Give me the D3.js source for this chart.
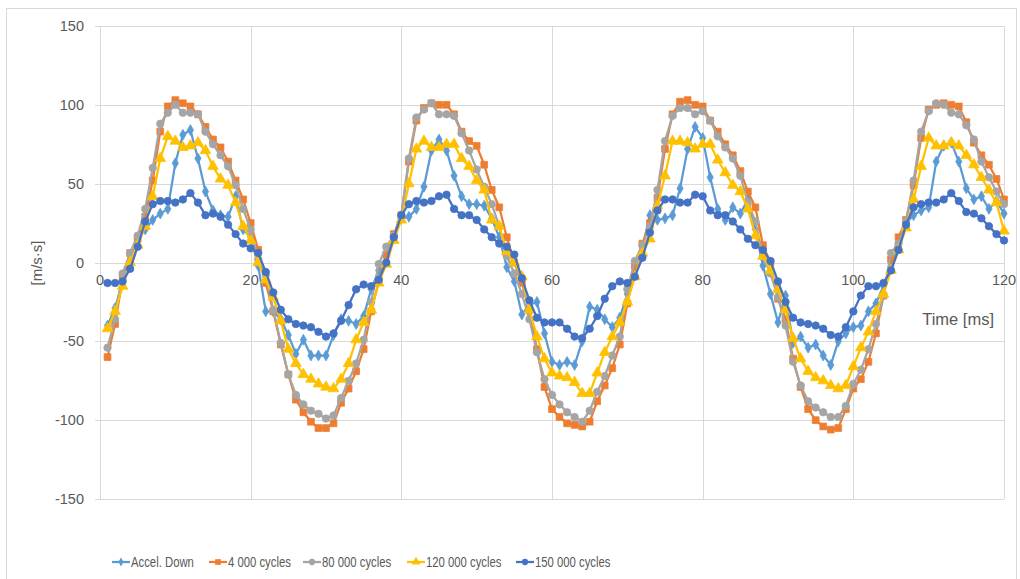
<!DOCTYPE html>
<html><head><meta charset="utf-8">
<script src="https://cdn.jsdelivr.net/npm/d3@7"></script>
<style>body{margin:0;background:#fff}svg{display:block}text{font-family:"Liberation Sans",Arial,sans-serif;fill:#595959}</style>
</head><body><svg id="c" width="1020" height="579"></svg>
<script>
const time = [1,2,3,4,5,6,7,8,9,10,11,12,13,14,15,16,17,18,19,20,21,22,23,24,25,26,27,28,29,30,31,32,33,34,35,36,37,38,39,40,41,42,43,44,45,46,47,48,49,50,51,52,53,54,55,56,57,58,59,60,61,62,63,64,65,66,67,68,69,70,71,72,73,74,75,76,77,78,79,80,81,82,83,84,85,86,87,88,89,90,91,92,93,94,95,96,97,98,99,100,101,102,103,104,105,106,107,108,109,110,111,112,113,114,115,116,117,118,119,120];
const accelDown = [-40,-29,-12,5,15,21,27,31,34,63,81,84,66,45,33,30,29,42,21,16,-2,-31,-31,-36,-46,-58,-49,-59,-59,-59,-46,-36,-37,-39,-34,-17,-5,0,17,28,29,34,48,71,78,71,55,42,37,37,36,28,16,-3,-12,-33,-27,-25,-45,-63,-65,-63,-65,-50,-28,-30,-36,-41,-35,-20,-3,10,30,27,28,30,47,72,86,79,54,34,27,35,31,40,21,-2,-20,-38,-21,-51,-47,-54,-52,-59,-65,-50,-45,-41,-40,-31,-26,-15,-2,10,25,30,33,35,64,74,76,64,47,40,42,34,39,31];
const cycles4000 = [-60,-39,-10,6,15,29,52,83,99,103,101,99,94,86,78,73,64,52,40,25,8,-13,-31,-52,-71,-87,-95,-101,-105,-105,-102,-89,-80,-69,-55,-31,-12,5,18,30,64,90,98,101,100,100,94,83,77,74,62,46,35,16,0,-13,-30,-55,-79,-93,-98,-102,-103,-104,-101,-88,-78,-67,-52,-26,-2,12,25,41,72,94,102,103,100,99,90,83,75,68,58,45,35,11,0,-23,-36,-61,-79,-93,-100,-104,-106,-105,-93,-80,-74,-63,-45,-21,2,16,27,49,79,97,100,101,100,99,89,76,68,62,53,40];
const cycles80000 = [-54,-36,-7,6,17,34,60,88,95,100,95,95,94,83,75,68,61,49,34,21,2,-8,-30,-51,-71,-84,-90,-94,-96,-99,-97,-86,-75,-64,-49,-25,-1,10,17,30,66,92,97,101,94,94,93,82,71,59,48,37,23,4,-7,-20,-36,-57,-74,-84,-90,-95,-98,-101,-94,-82,-72,-59,-47,-17,1,11,23,46,77,93,98,98,94,96,90,80,73,66,55,38,26,4,-7,-22,-40,-63,-78,-88,-92,-95,-98,-98,-91,-77,-68,-55,-39,-21,6,12,26,52,83,96,101,100,95,94,87,78,64,54,45,37];
const cycles120000 = [-42,-31,-15,0,11,23,42,66,80,77,73,74,76,71,61,53,49,38,23,14,0,-11,-22,-37,-55,-64,-71,-74,-77,-79,-80,-74,-64,-49,-38,-30,-13,-1,14,27,50,72,77,73,73,75,75,66,61,52,46,27,23,7,0,-9,-30,-47,-61,-70,-72,-73,-76,-83,-83,-70,-57,-47,-38,-25,-9,6,15,36,55,77,77,76,72,75,75,65,57,49,45,34,17,4,-5,-17,-30,-48,-61,-69,-73,-75,-78,-80,-78,-66,-54,-44,-31,-20,-5,8,22,40,61,79,74,74,76,74,68,62,54,46,38,20];
const cycles150000 = [-13,-13,-12,-4,10,26,37,39,39,38,40,44,38,30,31,29,24,18,12,9,6,-6,-19,-30,-36,-39,-40,-41,-44,-47,-45,-37,-27,-17,-14,-15,-11,0,16,30,37,39,38,39,42,43,34,30,30,27,21,16,12,10,5,-10,-24,-35,-38,-38,-38,-42,-47,-48,-42,-34,-23,-15,-12,-13,-9,3,19,33,40,40,38,38,43,42,33,30,30,26,21,15,11,8,1,-12,-25,-35,-38,-39,-40,-42,-46,-47,-41,-31,-21,-15,-15,-13,-5,8,24,35,37,38,38,40,44,39,32,31,28,23,18,14];
const seriesNames = ["Accel. Down","4 000 cycles","80 000 cycles","120 000 cycles","150 000 cycles"];
const xTicks = [0,20,40,60,80,100,120];
const yTicks = [-150,-100,-50,0,50,100,150];
const xTitle = "Time [ms]";
const yTitle = "[m/s·s]";

const seriesValues = [accelDown, cycles4000, cycles80000, cycles120000, cycles150000];
const colors = ["#5B9BD5","#ED7D31","#A5A5A5","#FFC000","#4472C4"];
const symbols = [d3.symbolDiamond, d3.symbolSquare, d3.symbolCircle, d3.symbolTriangle, d3.symbolCircle];
const symSizes = [34, 46, 44, 50, 44];

const svg = d3.select("#c");
svg.append("rect").attr("x",6.5).attr("y",8.5).attr("width",1010).attr("height",600)
  .attr("fill","#fff").attr("stroke","#D9D9D9");

const x = d3.scaleLinear().domain([0,120]).range([100,1004]);
const y = d3.scaleLinear().domain([-150,150]).range([499,26]);

const g = svg.append("g");
g.selectAll(".hg").data(yTicks).join("line")
  .attr("x1",95).attr("x2",1004).attr("y1",d=>Math.round(y(d))+0.5).attr("y2",d=>Math.round(y(d))+0.5)
  .attr("stroke","#D9D9D9").attr("stroke-width",1);
g.selectAll(".vg").data(xTicks).join("line")
  .attr("x1",d=>Math.round(x(d))+0.5).attr("x2",d=>Math.round(x(d))+0.5).attr("y1",26).attr("y2",499)
  .attr("stroke","#D9D9D9").attr("stroke-width",1);

svg.selectAll(".yl").data(yTicks).join("text")
  .attr("x",84).attr("y",d=>y(d)).attr("dy","0.35em").attr("text-anchor","end")
  .attr("font-size",14.5).text(d=>d);
svg.selectAll(".xl").data(xTicks).join("text")
  .attr("x",d=>x(d)).attr("y",y(0)+22).attr("text-anchor","middle")
  .attr("font-size",14.5).text(d=>d);

svg.append("text").attr("transform","translate(42,263) rotate(-90)").attr("text-anchor","middle")
  .attr("font-size",15).text(yTitle);
svg.append("text").attr("x",994).attr("y",325).attr("text-anchor","end")
  .attr("font-size",16.5).text(xTitle);

const line = d3.line().x((d,i)=>x(time[i])).y(d=>y(d));
seriesValues.forEach((vals,si)=>{
  const sg = svg.append("g");
  sg.append("path").datum(vals).attr("d",line).attr("fill","none")
    .attr("stroke",colors[si]).attr("stroke-width",2.25).attr("stroke-linejoin","round");
  const sym = d3.symbol().type(symbols[si]).size(symSizes[si]);
  sg.selectAll("path.m").data(vals).join("path").attr("class","m")
    .attr("d",sym).attr("transform",(d,i)=>`translate(${x(time[i])},${y(d)})`)
    .attr("fill",colors[si]).attr("stroke",colors[si]).attr("stroke-width",0.75);
});

// legend
const legX = [112, 209, 303, 407, 516];
const lg = svg.append("g");
seriesNames.forEach((n,i)=>{
  const gx = legX[i], gy = 562;
  lg.append("line").attr("x1",gx).attr("x2",gx+18).attr("y1",gy).attr("y2",gy)
    .attr("stroke",colors[i]).attr("stroke-width",2.25);
  lg.append("path").attr("d",d3.symbol().type(symbols[i]).size(symSizes[i]*0.7)())
    .attr("transform",`translate(${gx+9},${gy})`).attr("fill",colors[i]);
  const t = lg.append("text").attr("x",gx+19).attr("y",gy).attr("dy","0.35em").attr("font-size",15.5).text(n);
  const w = t.node().getComputedTextLength();
  t.attr("textLength", w*0.73).attr("lengthAdjust","spacingAndGlyphs");
});
</script></body></html>
